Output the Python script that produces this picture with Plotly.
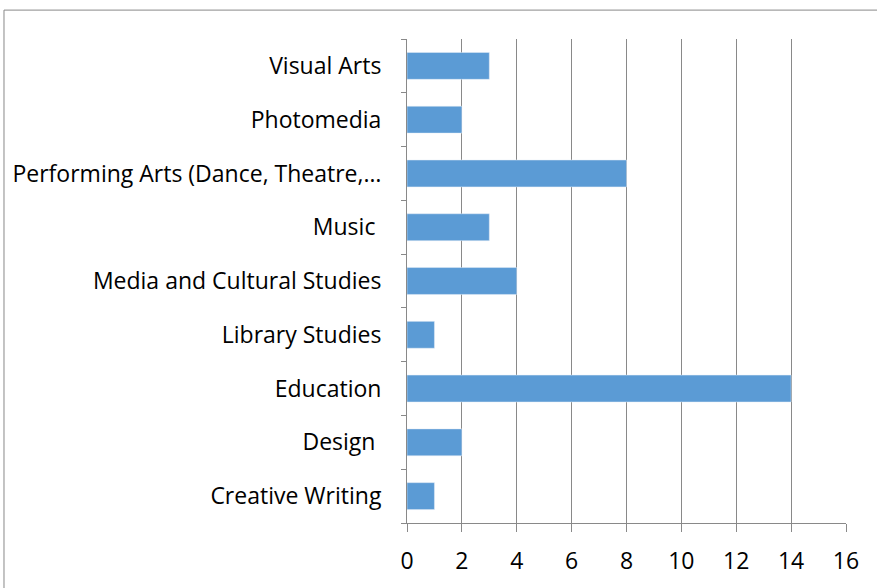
import plotly.graph_objects as go

categories = ['Creative Writing', 'Design ', 'Education', 'Library Studies',
              'Media and Cultural Studies', 'Music ', 'Performing Arts (Dance, Theatre,…',
              'Photomedia', 'Visual Arts']
counts = [1, 2, 14, 1, 4, 3, 8, 2, 3]
x_ticks = [0, 2, 4, 6, 8, 10, 12, 14, 16]

fig = go.Figure()
fig.add_trace(go.Bar(y=categories, x=counts, orientation='h',
                     marker_color='#5B9BD5', width=0.5, name=''))

fig.update_layout(
    width=877, height=588,
    margin=dict(l=407, r=31, t=39, b=63),
    paper_bgcolor='white', plot_bgcolor='white',
    font=dict(family='Open Sans', size=23, color='black'),
    showlegend=False,
    # chart frame, top-left corner visible, the rest runs off the picture
    shapes=[dict(type='rect', xref='paper', yref='paper',
                 x0=-0.918, x1=1.2, y0=-0.3, y1=1.0597,
                 line=dict(color='#898989', width=1))],
)
fig.update_xaxes(range=[0, 16], tickvals=x_ticks, showgrid=True, gridcolor='#898989',
                 gridwidth=1, showline=True, linecolor='#898989', ticks='outside',
                 ticklen=8, tickcolor='#898989', zeroline=False, ticklabelstandoff=9)
fig.update_yaxes(showline=True, linecolor='#898989', ticks='outside', ticklen=5,
                 tickcolor='#898989', tickson='boundaries', ticklabelstandoff=20,
                 showgrid=False)

fig.write_html("out.html", config={'displayModeBar': False},
               post_script="document.body.style.margin='0';")
